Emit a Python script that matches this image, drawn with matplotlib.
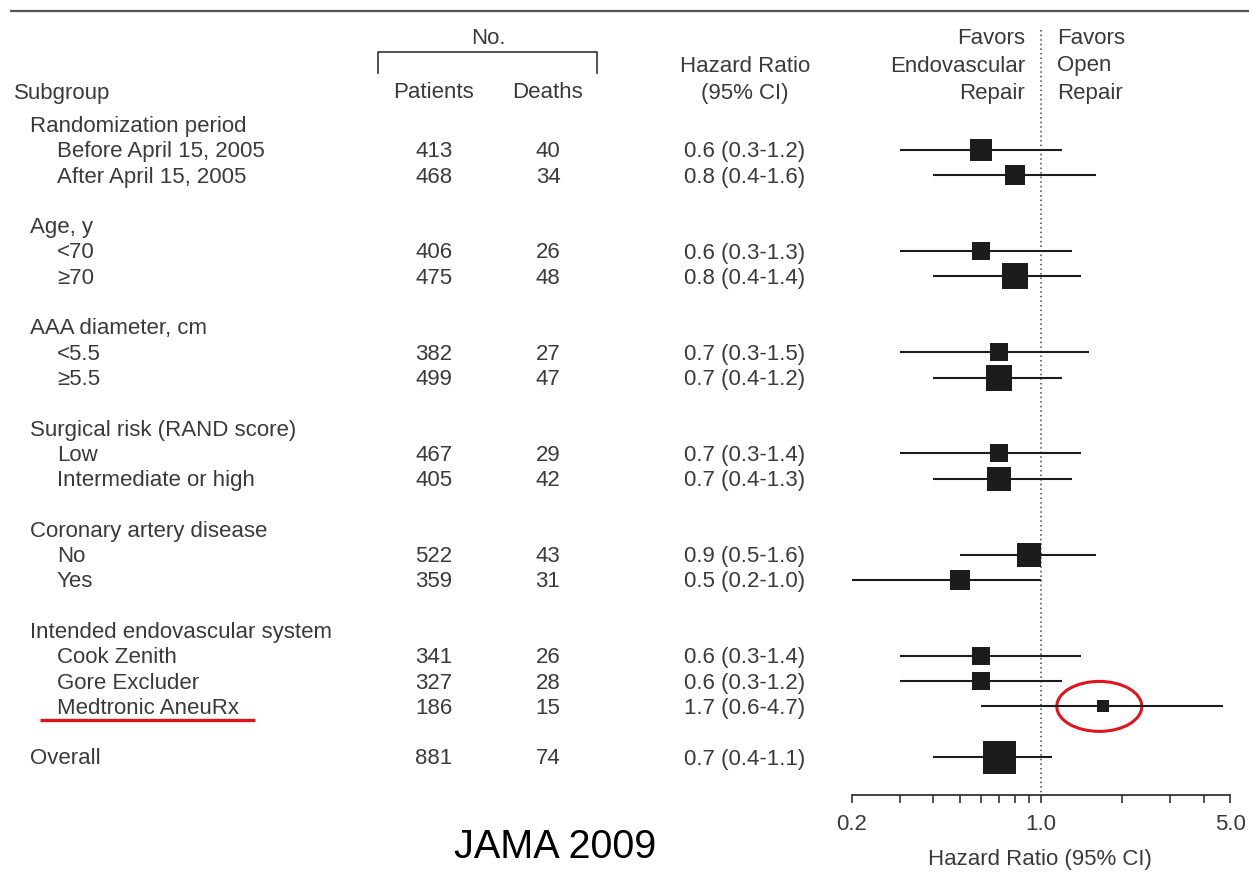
import matplotlib
matplotlib.use("Agg")
import matplotlib.pyplot as plt
from matplotlib.patches import Ellipse
from matplotlib.ticker import NullLocator

plt.rcParams['font.family'] = ['Liberation Sans', 'DejaVu Sans']

# ---- data -------------------------------------------------------------
groups = ["Randomization period", "Age, y", "AAA diameter, cm",
          "Surgical risk (RAND score)", "Coronary artery disease",
          "Intended endovascular system"]
group_sizes = [2, 2, 2, 2, 2, 3]
subgroups = ["Before April 15, 2005", "After April 15, 2005",
             "<70", "\u226570",
             "<5.5", "\u22655.5",
             "Low", "Intermediate or high",
             "No", "Yes",
             "Cook Zenith", "Gore Excluder", "Medtronic AneuRx"]
patients = [413, 468, 406, 475, 382, 499, 467, 405, 522, 359, 341, 327, 186]
deaths = [40, 34, 26, 48, 27, 47, 29, 42, 43, 31, 26, 28, 15]
hr = [0.6, 0.8, 0.6, 0.8, 0.7, 0.7, 0.7, 0.7, 0.9, 0.5, 0.6, 0.6, 1.7]
ci_low = [0.3, 0.4, 0.3, 0.4, 0.3, 0.4, 0.3, 0.4, 0.5, 0.2, 0.3, 0.3, 0.6]
ci_high = [1.2, 1.6, 1.3, 1.4, 1.5, 1.2, 1.4, 1.3, 1.6, 1.0, 1.4, 1.2, 4.7]

overall_label = "Overall"
overall_patients = 881
overall_deaths = 74
overall_hr = 0.7
overall_low = 0.4
overall_high = 1.1

tick_values = [0.2, 0.3, 0.4, 0.5, 0.6, 0.7, 0.8, 0.9, 1.0, 2, 3, 4, 5]
tick_labels = ["0.2", "", "", "", "", "", "", "", "1.0", "", "", "", "5.0"]
highlight = "Medtronic AneuRx"

# ---- layout (pixel units) ---------------------------------------------
W, H = 1249, 874
TXT = '#3a3a3a'
INK = '#1c1c1c'
RED = '#e0141a'
FS = 16
DY = 2  # small downward nudge so text sits on the row centre

fig = plt.figure(figsize=(W / 100, H / 100), dpi=100)
bg = fig.add_axes([0, 0, 1, 1])
bg.set_xlim(0, W)
bg.set_ylim(H, 0)
bg.axis('off')


def label(x, y, s, ha='left', **kw):
    kw.setdefault('fontsize', FS)
    kw.setdefault('color', TXT)
    bg.text(x, y + DY, s, ha=ha, va='center', **kw)


ax_top, ax_bot = 30, 795
ax_left, ax_right = 852, 1230
ax = fig.add_axes([ax_left / W, 1 - ax_bot / H,
                   (ax_right - ax_left) / W, (ax_bot - ax_top) / H])
ax.set_xscale('log')
ax.set_xlim(0.2, 5)
ax.set_ylim(ax_bot, ax_top)
ax.patch.set_alpha(0)

row0, step = 124.5, 25.3
x_sub, x_grp, x_item = 14, 30, 57
x_pat, x_dea, x_hr = 434, 548, 745

# header
bg.plot([10, W], [11, 11], color='#555555', lw=1.6, solid_capstyle='butt')
label(x_sub, 91, "Subgroup")
label(488, 37, "No.", ha='center')
bg.plot([378, 378, 597, 597], [73, 52, 52, 73], color='#333333', lw=1.2)
label(x_pat, 91, "Patients", ha='center')
label(x_dea, 91, "Deaths", ha='center')
label(x_hr, 64, "Hazard Ratio", ha='center')
label(x_hr, 91, "(95% CI)", ha='center')
for i, (left, right) in enumerate(zip(["Favors", "Endovascular", "Repair"],
                                       ["Favors", "Open", "Repair"])):
    yy = 37 + 27 * i
    label(1025, yy, left, ha='right')
    label(1057, yy, right, ha='left')


def side_points(d):
    # square side grows with the number of deaths
    side_px = 33 * (d / overall_deaths) ** 0.6
    return side_px * 72 / 100


def draw_row(y, name, x_label, n_pat, n_dea, h, lo, hi):
    label(x_label, y, name)
    label(x_pat, y, f"{n_pat}", ha='center')
    label(x_dea, y, f"{n_dea}", ha='center')
    label(x_hr, y, f"{h:.1f} ({lo:.1f}-{hi:.1f})", ha='center')
    ax.plot([lo, hi], [y, y], color=INK, lw=1.5, solid_capstyle='butt', zorder=3)
    ax.plot([h], [y], marker='s', ms=side_points(n_dea), mew=0, color=INK,
            linestyle='none', zorder=4)


r = 0
k = 0
highlight_y = None
hi_idx = None
for g, n in zip(groups, group_sizes):
    y = row0 + step * r
    label(x_grp, y, g)
    for j in range(n):
        y = row0 + step * (r + 1 + j)
        draw_row(y, subgroups[k], x_item, patients[k], deaths[k],
                 hr[k], ci_low[k], ci_high[k])
        if subgroups[k] == highlight:
            highlight_y = y
            hi_idx = k
        k += 1
    r += n + 2

draw_row(row0 + step * r, overall_label, x_grp, overall_patients,
         overall_deaths, overall_hr, overall_low, overall_high)

# reference line at HR = 1
ax.plot([1, 1], [ax_top, ax_bot], color='#444444', lw=1.1, ls=(0, (1, 2)),
        zorder=2)

# axis styling
for s in ('top', 'left', 'right'):
    ax.spines[s].set_visible(False)
ax.spines['bottom'].set_color('#333333')
ax.spines['bottom'].set_linewidth(1.3)
ax.set_yticks([])
ax.set_xticks(tick_values)
ax.set_xticklabels(tick_labels)
ax.xaxis.set_minor_locator(NullLocator())
ax.tick_params(axis='x', direction='out', length=6, width=1.2, color='#333333',
               labelsize=FS, labelcolor=TXT, pad=8)
label(1040, 858, "Hazard Ratio (95% CI)", ha='center')

# highlight of the Medtronic AneuRx subgroup
bg.plot([40, 255], [highlight_y + 14, highlight_y + 14], color=RED, lw=2.4,
        solid_capstyle='butt')
cx, cy = ax.transData.transform((hr[hi_idx], highlight_y))
bg.add_patch(Ellipse((cx - 4, H - cy), 85, 50, fill=False, edgecolor=RED,
                     lw=2.2, zorder=5))

label(555, 845, "JAMA 2009", ha='center', fontsize=28.5, color='black')

fig.savefig('out.png', dpi=100)
